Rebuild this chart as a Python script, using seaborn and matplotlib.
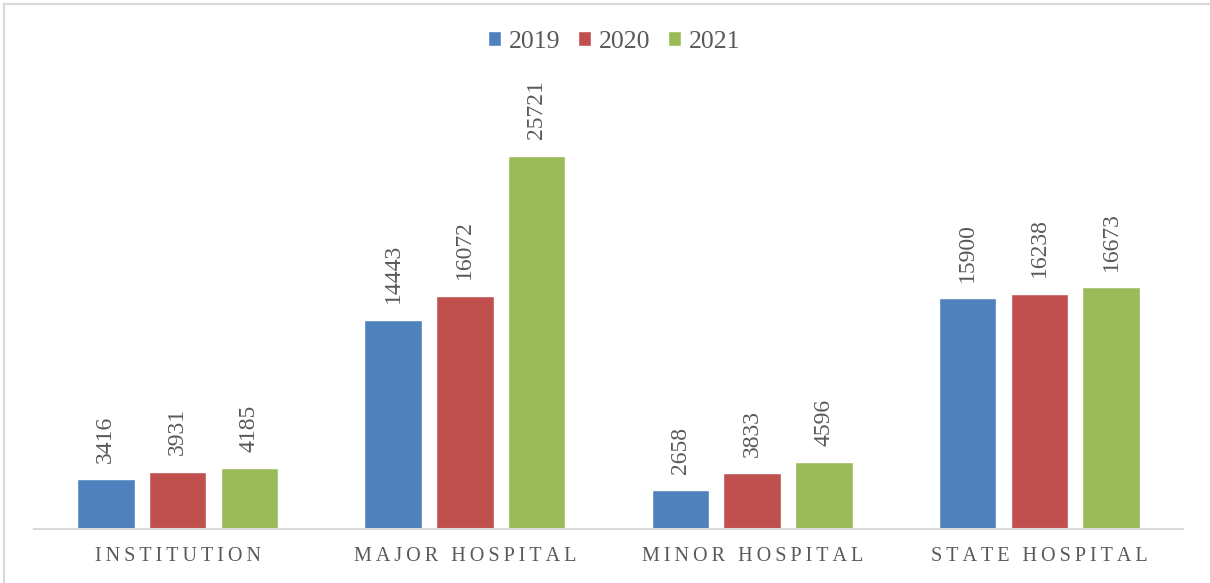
import pandas as pd
import matplotlib.pyplot as plt
import seaborn as sns
from matplotlib.lines import Line2D

# chart values
categories = ['INSTITUTION', 'MAJOR HOSPITAL', 'MINOR HOSPITAL', 'STATE HOSPITAL']
years = ['2019', '2020', '2021']
values_2019 = [3416, 14443, 2658, 15900]
values_2020 = [3931, 16072, 3833, 16238]
values_2021 = [4185, 25721, 4596, 16673]

colors = ['#4F81BD', '#C0504D', '#9BBB59']
text_gray = '#595959'

df = pd.DataFrame({
    'category': categories * 3,
    'year': [y for y in years for _ in categories],
    'value': values_2019 + values_2020 + values_2021,
})

sns.set_style('white')
plt.rcParams['font.family'] = ['Liberation Serif', 'DejaVu Serif']

fig = plt.figure(figsize=(12.1, 5.83), dpi=100)
ax = fig.add_axes([34 / 1210, 54 / 583, 1149 / 1210, 435 / 583])

sns.barplot(data=df, x='category', y='value', hue='year', palette=colors,
            width=0.75, gap=0.2, saturation=1, ax=ax, legend=True)

ax.set_ylim(0, 30000)
ax.set_xlim(-0.5, 3.5)
ax.set_xlabel('')
ax.set_ylabel('')
ax.set_yticks([])

# letter-spaced category labels
ax.set_xticks(range(len(categories)))
ax.set_xticklabels(['\u2009'.join(c) for c in categories], fontsize=14.5, color=text_gray)
ax.tick_params(axis='x', length=0, pad=13)

for s in ['top', 'right', 'left']:
    ax.spines[s].set_visible(False)
ax.spines['bottom'].set_color('#D9D9D9')
ax.spines['bottom'].set_linewidth(1.5)

for cont in ax.containers:
    ax.bar_label(cont, rotation=90, padding=12, fontsize=17, color=text_gray)

leg = ax.legend(loc='center', bbox_to_anchor=(0.505, 1.12), ncol=3, frameon=False,
                fontsize=18.5, handlelength=0.5, handleheight=0.5, handletextpad=0.3,
                columnspacing=0.7)
for t in leg.get_texts():
    t.set_color(text_gray)

# light frame around the chart
fig.add_artist(Line2D([4 / 1210, 4 / 1210], [0, 1 - 4 / 583], transform=fig.transFigure,
                      color='#D9D9D9', lw=1.5))
fig.add_artist(Line2D([4 / 1210, 1], [1 - 4 / 583, 1 - 4 / 583], transform=fig.transFigure,
                      color='#D9D9D9', lw=1.5))

fig.savefig('out.png', dpi=100)
